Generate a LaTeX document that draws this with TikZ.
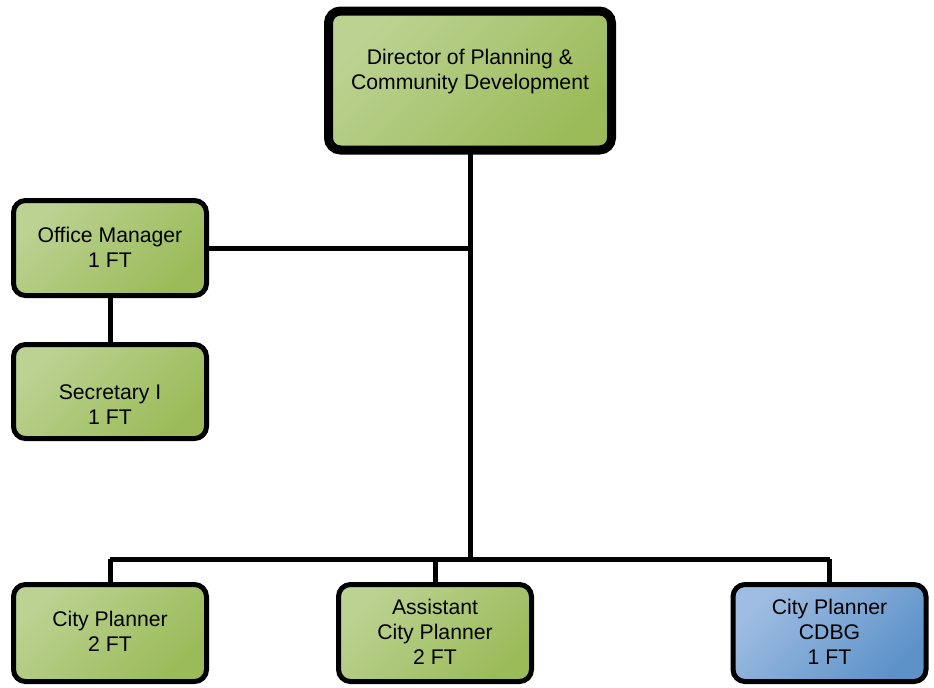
\documentclass[tikz,border=0pt]{standalone}
\usepackage{fontspec}
\setmainfont{Liberation Sans}
\definecolor{gLight}{HTML}{BCD292}
\definecolor{gDark}{HTML}{9BBB59}
\definecolor{bLight}{HTML}{9FBDE2}
\definecolor{bDark}{HTML}{5D92C9}
\tikzset{
  box/.style={draw=black, line width=3.75pt, rounded corners=9pt, inner sep=0pt, outer sep=0pt,
    top color=gLight, bottom color=gDark, shading angle=45},
  bluebox/.style={box, top color=bLight, bottom color=bDark, shading angle=45},
  txt/.style={align=center, inner sep=0pt, font=\fontsize{15.9pt}{18.75pt}\selectfont},
  wire/.style={draw=black, line width=3.75pt}
}
\begin{document}
\begin{tikzpicture}[x=0.75pt, y=-0.75pt]
\useasboundingbox (0,0) rectangle (934,687);
% junction points
\coordinate (jOff) at (470,247);
\coordinate (jBus) at (470,559);
\coordinate (bL) at (110,559);
\coordinate (bM) at (435,559);
\coordinate (bR) at (829.5,559);
% boxes
\node[box, line width=6.75pt, minimum width=212.25pt, minimum height=104.25pt] (dir) at (470,80.5) {};
\node[box, minimum width=144.75pt, minimum height=71.25pt] (off) at (110,248) {};
\node[box, minimum width=144.75pt, minimum height=70.5pt] (sec) at (110,391.5) {};
\node[box, minimum width=144.75pt, minimum height=72.75pt] (cp) at (110,633) {};
\node[box, minimum width=144.75pt, minimum height=72.75pt] (acp) at (435,633) {};
\node[bluebox, minimum width=144.75pt, minimum height=72.75pt] (cdbg) at (829.5,633) {};
% wires
\draw[wire] (dir.south) -- (jBus);
\draw[wire] (off.east) -- (off.east -| jOff);
\draw[wire] (off.south) -- (sec.north);
\draw[wire] (bL) -- (bR);
\draw[wire] (bL) -- (cp.north);
\draw[wire] (bM) -- (acp.north);
\draw[wire] (bR) -- (cdbg.north);
% texts
\node[txt] (tdir) at (470,72) {Director of Planning \&\\Community Development};
\node[txt] (toff) at (110,247) {Office Manager\\1 FT};
\node[txt] (tsec) at (110,404.5) {Secretary I\\1 FT};
\node[txt] (tcp) at (110,631.5) {City Planner\\2 FT};
\node[txt] (tacp) at (435,632) {Assistant\\City Planner\\2 FT};
\node[txt] (tcdbg) at (829.5,631.5) {City Planner\\CDBG\\1 FT};
\end{tikzpicture}
\end{document}
